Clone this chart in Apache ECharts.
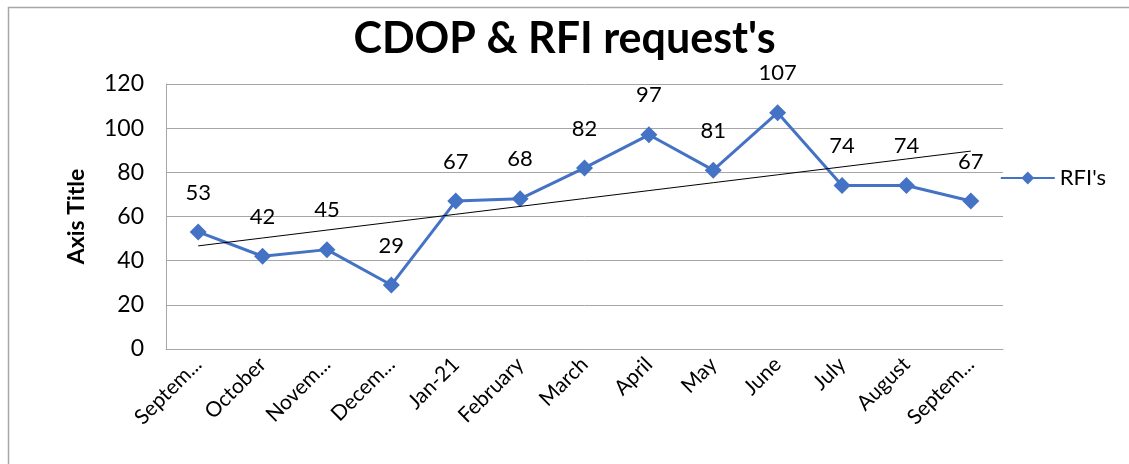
<!DOCTYPE html>
<html>
<head>
    <meta charset="utf-8">
    <title>CDOP & RFI request's</title>
    <script src="https://cdn.jsdelivr.net/npm/echarts@6/dist/echarts.min.js"></script>
    <style>
        html, body { margin: 0; padding: 0; background: #fff; }
    </style>
</head>
<body>
    <div id="main" style="width: 1129px;height:464px;"></div>
    <script type="text/javascript">
        // chart data
        var months = ["Septem...", "October", "Novem...", "Decem...", "Jan-21", "February", "March",
            "April", "May", "June", "July", "August", "Septem..."]
        var rfis = [53, 42, 45, 29, 67, 68, 82, 97, 81, 107, 74, 74, 67]
        var yTicks = [0, 20, 40, 60, 80, 100, 120]

        // linear trendline (least squares over the series)
        function trend(vals) {
            var n = vals.length, sx = 0, sy = 0, sxy = 0, sxx = 0
            vals.forEach(function (v, i) { sx += i; sy += v; sxy += i * v; sxx += i * i })
            var b = (n * sxy - sx * sy) / (n * sxx - sx * sx)
            var a = (sy - b * sx) / n
            return vals.map(function (v, i) { return a + b * i })
        }

        var font = "Lato, 'Open Sans', sans-serif"
        var myChart = echarts.init(document.getElementById("main"))

        var option = {
            animation: false,
            textStyle: { fontFamily: font },
            title: {
                text: "CDOP & RFI request's",
                left: "center",
                top: 13,
                textStyle: { fontSize: 43, fontWeight: "bold", color: "#000", fontFamily: font }
            },
            graphic: [{
                type: "rect",
                shape: { x: 8.5, y: 7.5, width: 1200, height: 600 },
                style: { fill: "none", stroke: "#a6a6a6", lineWidth: 1.5 },
                silent: true
            }],
            legend: {
                data: [{ name: "RFI's" }],
                right: 18,
                top: 162,
                itemWidth: 54,
                itemHeight: 16,
                itemGap: 6,
                textStyle: { fontSize: 22, color: "#000" }
            },
            grid: { left: 166, right: 126, top: 84, bottom: 115 },
            xAxis: {
                type: "category",
                data: months,
                boundaryGap: true,
                axisLine: { lineStyle: { color: "#a6a6a6", width: 1 } },
                axisTick: { show: false },
                axisLabel: { rotate: 45, fontSize: 21, color: "#000", margin: 12, interval: 0 }
            },
            yAxis: {
                type: "value",
                min: yTicks[0],
                max: yTicks[yTicks.length - 1],
                interval: 20,
                name: "Axis Title",
                nameLocation: "middle",
                nameGap: 78,
                nameTextStyle: { fontSize: 23, fontWeight: "bold", color: "#000" },
                axisLine: { show: true, lineStyle: { color: "#a6a6a6", width: 1 } },
                axisTick: { show: false },
                axisLabel: { fontSize: 23, color: "#000", margin: 22 },
                splitLine: { lineStyle: { color: "#a6a6a6", width: 1 } }
            },
            series: [
                {
                    name: "RFI's",
                    type: "line",
                    data: rfis,
                    symbol: "diamond",
                    symbolSize: 17,
                    itemStyle: { color: "#4472C4" },
                    lineStyle: { color: "#4472C4", width: 3 },
                    label: { show: true, position: "top", distance: 20, fontSize: 22, color: "#000" },
                    z: 3
                },
                {
                    name: "trend",
                    type: "line",
                    data: trend(rfis),
                    symbol: "none",
                    lineStyle: { color: "#000", width: 1 },
                    silent: true,
                    z: 4
                }
            ]
        }
        myChart.setOption(option)
    </script>
</body>
</html>
